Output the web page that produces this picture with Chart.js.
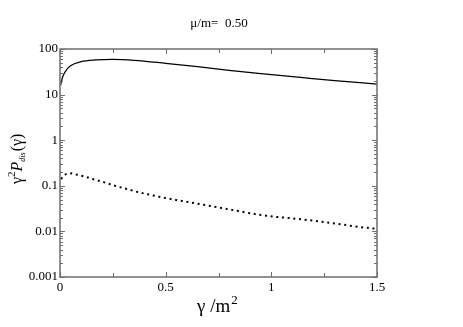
<!DOCTYPE html>
<html lang="en">
<head>
    <meta charset="UTF-8">
    <title>mu/m = 0.50</title>
    <style>
        body { margin: 0; padding: 0; background: #fff; }
        #wrap { width: 463px; height: 327px; }
    </style>
</head>
<body>
    <div id="wrap"><canvas id="chart" width="463" height="327"></canvas></div>

    <script src="https://cdn.jsdelivr.net/npm/chart.js"></script>
    <script>
        // data
        const titleText = 'μ/m=  0.50';
        const solidX = [0.003, 0.012, 0.025, 0.05, 0.1, 0.17, 0.25, 0.35, 0.5, 0.65, 0.8, 1.0, 1.15, 1.3, 1.5];
        const solidY = [16, 24, 32, 43, 52.7, 57.5, 59, 56.5, 48.5, 41, 34, 27.5, 23.5, 20.2, 17];
        const dotX = [0.005, 0.02, 0.047, 0.074, 0.1, 0.155, 0.21, 0.26, 0.316, 0.368, 0.423, 0.48, 0.632, 0.79, 0.976, 1.13, 1.29, 1.47, 1.5];
        const dotY = [0.14, 0.17, 0.188, 0.178, 0.167, 0.141, 0.119, 0.10, 0.085, 0.073, 0.064, 0.056, 0.042, 0.031, 0.022, 0.0187, 0.0151, 0.0117, 0.0114];
        const xTicks = [0, 0.5, 1, 1.5];
        const xMinorTicks = [0.25, 0.75, 1.25];
        const yTicks = [0.001, 0.01, 0.1, 1, 10, 100];

        const serif = "'Liberation Serif', 'DejaVu Serif', serif";
        const frameColor = '#6e6e6e';

        // frame, inward ticks and axis titles
        const framePlugin = {
            id: 'frame',
            afterDraw(chart) {
                const ctx = chart.ctx;
                const a = chart.chartArea;
                const xs = chart.scales.x, ys = chart.scales.y;
                ctx.save();
                ctx.strokeStyle = frameColor;
                ctx.lineWidth = 1.5;
                ctx.strokeRect(a.left, a.top, a.right - a.left, a.bottom - a.top);

                ctx.lineWidth = 1;
                ctx.beginPath();
                // x ticks on bottom and top
                xTicks.concat(xMinorTicks).forEach(v => {
                    const px = Math.round(xs.getPixelForValue(v)) + 0.5;
                    const len = xMinorTicks.includes(v) ? 4 : 5;
                    ctx.moveTo(px, a.bottom); ctx.lineTo(px, a.bottom - len);
                    ctx.moveTo(px, a.top); ctx.lineTo(px, a.top + len);
                });
                // y ticks on left and right, majors + minors
                yTicks.forEach((dec, i) => {
                    const py = Math.round(ys.getPixelForValue(dec)) + 0.5;
                    ctx.moveTo(a.left, py); ctx.lineTo(a.left + 5, py);
                    ctx.moveTo(a.right, py); ctx.lineTo(a.right - 5, py);
                    if (i < yTicks.length - 1) {
                        for (let k = 2; k <= 9; k++) {
                            const my = Math.round(ys.getPixelForValue(dec * k)) + 0.5;
                            ctx.moveTo(a.left, my); ctx.lineTo(a.left + 3, my);
                            ctx.moveTo(a.right, my); ctx.lineTo(a.right - 3, my);
                        }
                    }
                });
                ctx.stroke();

                // title
                ctx.fillStyle = '#000';
                ctx.textAlign = 'center';
                ctx.textBaseline = 'alphabetic';
                ctx.font = '13px ' + serif;
                ctx.fillText(titleText, 219, 27);

                // x axis title: γ /m²
                ctx.textAlign = 'left';
                ctx.font = '19px ' + serif;
                ctx.fillText('γ /m', 197, 312);
                const w = ctx.measureText('γ /m').width;
                ctx.font = '13px ' + serif;
                ctx.fillText('2', 197 + w + 1, 304);

                // y axis title: γ²P_dis(γ), rotated
                ctx.translate(22, 184);
                ctx.rotate(-Math.PI / 2);
                let x = 0;
                ctx.font = '16px ' + serif;
                ctx.fillText('γ', x, 0); x += ctx.measureText('γ').width;
                ctx.font = '11px ' + serif;
                ctx.fillText('2', x, -7); x += ctx.measureText('2').width;
                ctx.font = 'italic 16px ' + serif;
                ctx.fillText('P', x, 0); x += ctx.measureText('P').width;
                ctx.font = 'italic 8px ' + serif;
                ctx.fillText('dis', x, 3); x += ctx.measureText('dis').width + 1;
                ctx.font = '16px ' + serif;
                ctx.fillText('(γ)', x, 0);
                ctx.restore();
            }
        };

        const ctx = document.getElementById('chart').getContext('2d');
        new Chart(ctx, {
            type: 'line',
            data: {
                datasets: [{
                    data: solidX.map((x, i) => ({ x: x, y: solidY[i] })),
                    borderColor: '#000',
                    borderWidth: 1.2,
                    pointRadius: 0,
                    cubicInterpolationMode: 'monotone',
                    fill: false
                }, {
                    data: dotX.map((x, i) => ({ x: x, y: dotY[i] })),
                    borderColor: '#000',
                    borderWidth: 2,
                    borderDash: [2, 3.7],
                    borderCapStyle: 'butt',
                    pointRadius: 0,
                    cubicInterpolationMode: 'monotone',
                    fill: false
                }]
            },
            options: {
                responsive: false,
                animation: false,
                layout: { padding: { left: 0, top: 49, right: 86, bottom: 0 } },
                plugins: {
                    legend: { display: false },
                    tooltip: { enabled: false }
                },
                scales: {
                    x: {
                        type: 'linear',
                        min: 0,
                        max: 1.5,
                        afterBuildTicks: s => { s.ticks = xTicks.map(v => ({ value: v })); },
                        afterFit: s => { s.height = 50; },
                        grid: { display: false, drawTicks: false },
                        border: { display: false },
                        ticks: {
                            color: '#000',
                            padding: 3,
                            maxRotation: 0,
                            font: { family: serif, size: 13 },
                            callback: v => String(v)
                        }
                    },
                    y: {
                        type: 'logarithmic',
                        min: 0.001,
                        max: 100,
                        afterBuildTicks: s => { s.ticks = yTicks.map(v => ({ value: v })); },
                        afterFit: s => { s.width = 60; },
                        grid: { display: false, drawTicks: false },
                        border: { display: false },
                        ticks: {
                            color: '#000',
                            padding: 2,
                            font: { family: serif, size: 13 },
                            callback: v => String(v)
                        }
                    }
                }
            },
            plugins: [framePlugin]
        });
    </script>
</body>
</html>
